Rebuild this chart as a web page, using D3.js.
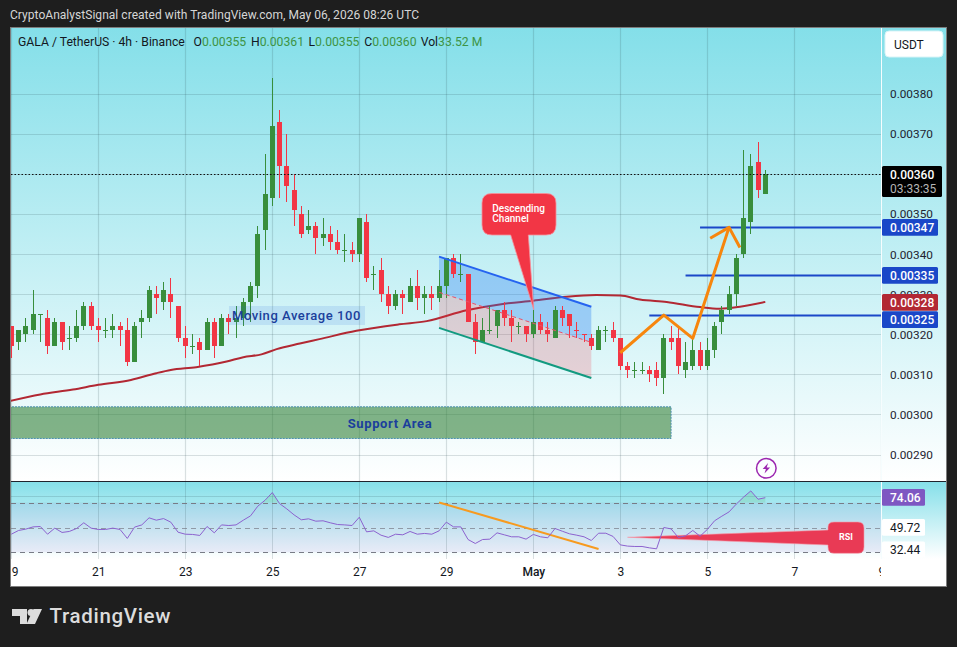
<!DOCTYPE html>
<html><head><meta charset="utf-8">
<script src="https://cdn.jsdelivr.net/npm/d3@7/dist/d3.min.js"></script>
<style>
html,body{margin:0;padding:0;background:#1e1e1e;overflow:hidden}
svg{display:block}
text{font-family:Roboto,"Liberation Sans",sans-serif}
</style></head><body>
<div id="chart"></div>
<script>
// prices are in units of 0.00001 USDT; x positions are 4h bar indexes (0 = Apr 19 00:00)
const opens =[322,318,320,321,325,324,317,323,319,319,322,327,322,321,321,322,321,313,323,324,330,328,330,327,319,317,318,316,323,317,324,323,324,328,332,346,354,373,362,356,350,346,347,344,345,343,341,341,340,348,335,336,330,327,330,328,332,329,330,329,332,339,335,335,323,318,321,322,326,324,322,322,320,323,321,319,326,325,321,320,319,316,321,321,319,312,311,311,311,311,309,319,319,311,312,316,312,316,323,326,330,340,348,363,355];
const closes=[317,321,322,325,325,317,323,318,319,322,327,322,321,321,322,321,313,322,324,331,329,331,328,319,317,317,316,323,317,324,323,324,328,332,345,355,372,362,357,351,345,347,344,345,343,341,341,340,349,334,335,330,327,330,329,332,329,330,329,332,339,335,335,323,318,321,321,326,324,322,322,320,323,321,320,326,324,322,321,320,317,321,321,319,312,311,311,311,310,309,319,318,312,313,316,312,316,322,326,330,339,349,362,356,360];
const highs =[322,321,324,331,325,326,324,323,322,326,328,328,324,324,325,323,324,323,326,332,332,333,334,327,322,320,319,324,324,325,325,327,329,333,347,365,384,376,370,360,352,351,348,349,347,346,345,343,349,350,337,339,332,331,331,334,336,332,332,336,339,340,340,335,325,324,327,326,328,326,323,322,326,325,323,327,327,325,323,320,320,322,322,323,319,313,313,313,312,313,320,322,322,318,319,318,319,323,327,332,340,366,365,368,361];
const lows  =[314,316,318,320,318,315,317,316,316,318,321,321,318,319,319,317,312,313,319,323,325,326,324,318,314,315,312,316,314,317,320,319,322,323,329,341,352,354,353,347,344,345,340,342,341,340,338,338,338,333,331,328,325,326,325,328,326,325,326,328,329,334,333,323,315,318,320,319,322,318,320,318,319,320,318,319,322,319,319,318,316,316,318,318,311,309,309,310,308,307,305,316,310,309,311,311,311,314,320,325,327,339,345,354,355];
const rsiValues=[44.6,47.6,48.7,50.5,50.8,44.6,49.5,46,46.8,49.2,53.8,49.5,48.4,48.4,49.5,48.4,41.2,50.3,52.1,57.8,55.9,57.2,54.3,46.2,44.6,44.4,43.6,50.8,45.7,52.1,51.6,52.1,55.9,59.4,67.2,72,78.2,69.3,65,60.2,56.2,57,55.1,55.4,53.8,52.4,52.1,51.6,58.3,46.5,47.3,43.8,42,44.6,44.1,46.8,44.6,45.2,44.6,47.3,54.3,50.5,50.5,40.3,37.1,40.3,40.6,45.7,44.1,42.5,42.5,40.6,44.4,42.5,41.7,49.2,47,44.9,43.8,42.5,39.5,45.4,45.4,42.8,36,35,34.7,34.7,33.6,32.8,50,48.9,42,43.3,47.6,43,48.4,55.4,59.1,62.6,68.9,74.5,79.5,72.8,74.06];
const maBars  =[-1,4,8.5,12,16.5,20,22,25.5,29.7,32,34.5,36.6,39.8,42.5,47.6,53.5,57.3,62.8,67.8,72,76.6,80.7,84,86.7,90.4,95,97.7,100.5,104];
const maValues=[303,305,306.2,307.4,308.6,310.3,311.1,311.8,313.2,314.3,315,316.3,317.7,318.8,320.9,322.5,323.3,326,327.6,328.4,329.4,329.8,329.7,328.7,328.1,326.8,326.4,326.9,328.1];
const priceTicks=[290,300,310,320,330,340,350,360,370,380];
const dateBars=[0,12,24,36,48,60,72,84,96,108,120];
const dateLabels=["19","21","23","25","27","29","May","3","5","7","9"];
const levelValues=[346.8,334.8,324.8];
const levelStartBars=[95,93,88];
const levelTagCenters=[227.3,275.3,319.7];
const channelBars=[59,80];
const channelTop=[339.4,326.9];
const channelMid=[330.5,318];
const channelBottom=[321.6,309.1];
const supportBand=[301.9,294];
const arrowBars=[84,90,94,99];
const arrowPrices=[315.4,324.8,319,346.7];
const arrowHeadBars=[96.4,99,100.5];
const arrowHeadPrices=[344,346.7,341.7];
const rsiTrendBars=[59,81];
const rsiTrendValues=[70.2,32.7];
const rsiBands=[70,50,30];

const W=957,H=647;
const svg=d3.select("#chart").append("svg").attr("width",W).attr("height",H).attr("viewBox",`0 0 ${W} ${H}`);
const defs=svg.append("defs");
function grad(id,y1,y2,stops){
  const g=defs.append("linearGradient").attr("id",id).attr("gradientUnits","userSpaceOnUse").attr("x1",0).attr("x2",0).attr("y1",y1).attr("y2",y2);
  stops.forEach(s=>g.append("stop").attr("offset",s[0]).attr("stop-color",s[1]));
}
const L=11,R=881,AR=946,T=28,MB=481,RB=559,FB=586;
grad("gMain",T,MB,[[0,"#84dfe9"],[1,"#ffffff"]]);
grad("gRsi",MB,RB,[[0,"#84dfe9"],[1,"#ffffff"]]);
defs.append("clipPath").attr("id","cMain").append("rect").attr("x",L).attr("y",T).attr("width",R-L).attr("height",MB-T);
defs.append("clipPath").attr("id","cRsi").append("rect").attr("x",L).attr("y",MB).attr("width",R-L).attr("height",RB-MB);
defs.append("clipPath").attr("id","cTime").append("rect").attr("x",L).attr("y",RB).attr("width",R-L).attr("height",FB-RB);

const x=d3.scaleLinear().domain([0,120]).range([11.3,881.3]);
const y=d3.scaleLinear().domain([290,380]).range([454.5,94]);
const yR=d3.scaleLinear().domain([30,70]).range([552.3,502.7]);
const fmt=v=>d3.format(".5f")(v*1e-5);
const snap=v=>Math.floor(v)+0.5;

// frame
svg.append("rect").attr("x",10.5).attr("y",27.5).attr("width",936).attr("height",559).attr("fill","#fff").attr("stroke","#7d7d7d");
svg.append("rect").attr("x",L).attr("y",T).attr("width",AR-L).attr("height",MB-T).attr("fill","url(#gMain)");
svg.append("rect").attr("x",L).attr("y",MB).attr("width",AR-L).attr("height",RB-MB).attr("fill","url(#gRsi)");

// title
svg.append("text").attr("x",10).attr("y",19).attr("fill","#d6d6d6").attr("font-size",12).attr("textLength",409).attr("lengthAdjust","spacing")
  .text("CryptoAnalystSignal created with TradingView.com, May 06, 2026 08:26 UTC");

// grid
const main=svg.append("g").attr("clip-path","url(#cMain)");
const grid="rgba(42,70,80,0.17)";
main.append("g").selectAll("line").data(priceTicks).join("line").attr("x1",L).attr("x2",R).attr("y1",d=>Math.round(y(d))+.5).attr("y2",d=>Math.round(y(d))+.5).attr("stroke",grid).attr("stroke-width",1.2);
main.append("g").selectAll("line").data(dateBars).join("line").attr("x1",d=>snap(x(d))).attr("x2",d=>snap(x(d))).attr("y1",T).attr("y2",MB).attr("stroke",grid).attr("stroke-width",1.2);

// support area
main.append("rect").attr("x",L-2).attr("y",y(supportBand[0])).attr("width",x(91)+0-(L-2)).attr("height",y(supportBand[1])-y(supportBand[0]))
  .attr("fill","rgba(46,125,50,0.58)").attr("stroke","#4a8fb0").attr("stroke-dasharray","2 1");
main.append("text").attr("x",390).attr("y",427.5).attr("text-anchor","middle").attr("font-size",13).attr("font-weight",700).attr("fill","#1b3f9c").attr("letter-spacing",.6).text("Support Area");

// MA 100
const maLine=d3.line().x((d,i)=>x(maBars[i])).y(d=>y(d)).curve(d3.curveMonotoneX);
main.append("path").attr("d",maLine(maValues)).attr("fill","none").attr("stroke","#b22833").attr("stroke-width",2);

// channel fill
const chTopArea=d3.area().x((d,i)=>x(channelBars[i])).y0((d,i)=>y(channelMid[i])).y1(d=>y(d));
const chBotArea=d3.area().x((d,i)=>x(channelBars[i])).y0((d,i)=>y(channelBottom[i])).y1(d=>y(d));
main.append("path").attr("d",chTopArea(channelTop)).attr("fill","rgba(33,120,243,0.32)");
main.append("path").attr("d",chBotArea(channelMid)).attr("fill","rgba(242,54,69,0.2)");
const chLine=d3.line().x((d,i)=>x(channelBars[i])).y(d=>y(d));

// horizontal levels
main.append("g").selectAll("line").data(levelValues).join("line")
  .attr("x1",(d,i)=>x(levelStartBars[i])).attr("x2",R).attr("y1",d=>Math.round(y(d))+.5).attr("y2",d=>Math.round(y(d))+.5)
  .attr("stroke","#1a47c8").attr("stroke-width",2);

// candles
const up="#388e3c",dn="#f23645";
const isUp=i=>closes[i]!==opens[i]?closes[i]>opens[i]:(i===0||closes[i]>=closes[i-1]);
const bars=main.append("g").attr("shape-rendering","crispEdges");
bars.selectAll("rect.w").data(opens).join("rect").attr("class","w")
  .attr("x",(d,i)=>snap(x(i))-.5).attr("width",1)
  .attr("y",(d,i)=>Math.round(y(highs[i]))).attr("height",(d,i)=>Math.round(y(lows[i]))-Math.round(y(highs[i])))
  .attr("fill",(d,i)=>isUp(i)?up:dn);
bars.selectAll("rect.b").data(opens).join("rect").attr("class","b")
  .attr("x",(d,i)=>snap(x(i))-2.5).attr("width",5)
  .attr("y",(d,i)=>Math.round(y(Math.max(d,closes[i]))))
  .attr("height",(d,i)=>Math.max(1,Math.round(y(Math.min(d,closes[i])))-Math.round(y(Math.max(d,closes[i])))))
  .attr("fill",(d,i)=>isUp(i)?up:dn);

// channel lines
main.append("path").attr("d",chLine(channelTop)).attr("stroke","#2563f0").attr("stroke-width",2).attr("fill","none");
main.append("path").attr("d",chLine(channelBottom)).attr("stroke","#129a80").attr("stroke-width",2).attr("fill","none");
main.append("path").attr("d",chLine(channelMid)).attr("stroke","#e8506a").attr("stroke-width",1).attr("stroke-dasharray","4 3").attr("fill","none");

// dotted last price
main.append("line").attr("x1",L).attr("x2",R).attr("y1",Math.round(y(closes[104]))+.5).attr("y2",Math.round(y(closes[104]))+.5).attr("stroke","#111").attr("stroke-dasharray","1.5 2").attr("stroke-width",1);

// orange arrow
const arr=d3.line().x((d,i)=>x(arrowBars[i])).y(d=>y(d));
main.append("path").attr("d",arr(arrowPrices)).attr("stroke","#f7860d").attr("stroke-width",3).attr("fill","none").attr("stroke-linejoin","round");
const arrH=d3.line().x((d,i)=>x(arrowHeadBars[i])).y(d=>y(d));
main.append("path").attr("d",arrH(arrowHeadPrices)).attr("stroke","#f7860d").attr("stroke-width",3).attr("fill","none").attr("stroke-linejoin","round");

// moving average label
main.append("rect").attr("x",229).attr("y",306).attr("width",136).attr("height",19).attr("fill","rgba(33,100,220,0.13)");
main.append("text").attr("x",232).attr("y",320).attr("font-size",13).attr("font-weight",500).attr("fill","#1b3f9c").attr("letter-spacing",.55).text("Moving Average 100");

// descending channel callout
const tipX=x(72)+.4,tipY=y(326.2);
main.append("path").attr("d",`M${tipX} ${tipY}L528.3 235H546Q556 235 556 225V203Q556 193.5 546 193.5H492Q482 193.5 482 203V225Q482 235 492 235H510.7Z`)
  .attr("fill","#f23645").attr("stroke","#f8909b").attr("stroke-width",.8);
const cal=main.append("text").attr("fill","#fff").attr("font-size",10).attr("font-weight",500);
cal.append("tspan").attr("x",492.3).attr("y",211.8).text("Descending");
cal.append("tspan").attr("x",492.3).attr("y",221.8).text("Channel");

// lightning marker
const bolt=main.append("g").attr("transform","translate(766.3,468.3)");
bolt.append("circle").attr("r",9.8).attr("fill","none").attr("stroke","#9c27b0").attr("stroke-width",1.5);
bolt.append("path").attr("d","M1.8-5.2L-3.6 .8H-.4L-1.8 5.2L3.8-.8H.4Z").attr("fill","#9c27b0");

// legend
const lg=svg.append("text").attr("y",46).attr("font-size",12.2).attr("fill","#131722");
lg.append("tspan").attr("x",18).text("GALA / TetherUS · 4h · Binance");
[["O","0.00355",193.5],["H","0.00361",251],["L","0.00355",308.5],["C","0.00360",364.3]].forEach(a=>{
  lg.append("tspan").attr("x",a[2]).attr("fill","#131722").text(a[0]);
  lg.append("tspan").attr("fill","#3d9445").text(a[1]);
});
lg.append("tspan").attr("x",420.7).attr("fill","#131722").text("Vol");
lg.append("tspan").attr("fill","#3d9445").text("33.52 M");

// price axis
const axR=d3.axisRight(y).tickValues(priceTicks).tickFormat(fmt).tickSize(0).tickPadding(9);
const gA=svg.append("g").attr("transform",`translate(${R},0)`).call(axR);
gA.select(".domain").attr("stroke","#f6fdfe").attr("d",`M0.5 ${T}V${MB}`);
gA.selectAll("text").attr("font-size",11.8).attr("fill","#1f2430").attr("font-family","Roboto,sans-serif");
svg.append("line").attr("x1",R+.5).attr("x2",R+.5).attr("y1",MB).attr("y2",RB).attr("stroke","#f6fdfe");

// USDT button
svg.append("rect").attr("x",885).attr("y",31).attr("width",58).attr("height",26).attr("rx",4).attr("fill","#fff").attr("stroke","#d8f4f7");
svg.append("text").attr("x",894).attr("y",48.5).attr("font-size",12).attr("fill","#131722").text("USDT");

// price tags
function tag(cy,txt,fill,wd){
  svg.append("rect").attr("x",882).attr("y",cy-8.4).attr("width",wd).attr("height",16.8).attr("rx",1.5).attr("fill",fill);
  svg.append("text").attr("x",890).attr("y",cy+4.3).attr("font-size",12).attr("font-weight",500).attr("fill","#fff").text(txt);
}
tag(302.3,fmt(maValues[28]-.1),"#b22833",56);
levelValues.forEach((d,i)=>tag(levelTagCenters[i],fmt(d),"#1a47c8",56));
svg.append("rect").attr("x",882).attr("y",166).attr("width",60).attr("height",31).attr("rx",1.5).attr("fill","#000");
svg.append("text").attr("x",890).attr("y",178.5).attr("font-size",12).attr("font-weight",500).attr("fill","#fff").text(fmt(closes[104]));
svg.append("text").attr("x",890).attr("y",192.5).attr("font-size",12).attr("fill","#b4b4b4").text("03:33:35");

// RSI pane
const rp=svg.append("g").attr("clip-path","url(#cRsi)");
rp.append("rect").attr("x",L).attr("y",yR(70)).attr("width",R-L).attr("height",yR(30)-yR(70)).attr("fill","rgba(126,87,194,0.1)");
rp.append("g").selectAll("line").data(dateBars).join("line").attr("x1",d=>snap(x(d))).attr("x2",d=>snap(x(d))).attr("y1",MB).attr("y2",RB).attr("stroke",grid);
rp.append("line").attr("x1",L).attr("x2",R).attr("y1",496.5).attr("y2",496.5).attr("stroke",grid);
rp.append("g").selectAll("line").data(rsiBands).join("line").attr("x1",L).attr("x2",R).attr("y1",d=>Math.round(yR(d))+.5).attr("y2",d=>Math.round(yR(d))+.5)
  .attr("stroke",(d,i)=>i===1?"rgba(120,123,134,.7)":"#787b86").attr("stroke-dasharray","5 4");
// overbought fill
defs.append("clipPath").attr("id","cOb").append("rect").attr("x",L).attr("y",MB).attr("width",R-L).attr("height",yR(70)-MB);
const obArea=d3.area().x((d,i)=>x(i)).y0(yR(70)).y1(d=>yR(d));
rp.append("g").attr("clip-path","url(#cOb)").append("path").attr("d",obArea(rsiValues)).attr("fill","rgba(76,175,80,0.16)");
// orange trend line
const rt=d3.line().x((d,i)=>x(rsiTrendBars[i])).y(d=>yR(d));
rp.append("path").attr("d",rt(rsiTrendValues)).attr("stroke","#f79a1f").attr("stroke-width",2).attr("fill","none");
// RSI callout
rp.append("path").attr("d",`M${x(85)} ${yR(42.1)}L828 530V527Q828 522 834 522H858Q864 522 864 528V547Q864 553.3 858 553.3H834Q828 553.3 828 547V545Z`)
  .attr("fill","#e93a55").attr("stroke","#f59aaa").attr("stroke-width",.6);
rp.append("text").attr("x",846).attr("y",540).attr("text-anchor","middle").attr("font-size",9).attr("font-weight",700).attr("fill","#fff").text("RSI");
// RSI line
const rl=d3.line().x((d,i)=>x(i)).y(d=>yR(d));
rp.append("path").attr("d",rl(rsiValues)).attr("fill","none").attr("stroke","#8c62cf").attr("stroke-width",1);
// RSI tags
function rtag(cy,h,txt,fill,col,w){
  svg.append("rect").attr("x",882).attr("y",cy-h/2).attr("width",43).attr("height",h).attr("rx",1.5).attr("fill",fill);
  svg.append("text").attr("x",890).attr("y",cy+4.3).attr("font-size",12).attr("font-weight",w).attr("fill",col).text(txt);
}
rtag(497.4,16.8,rsiValues[104].toFixed(2),"#7e57c2","#fff",500);
rtag(527.4,16.8,"49.72","#fff","#131722",400);
rtag(549.6,16,"32.44","#fff","#131722",400);

// separators
svg.append("line").attr("x1",L).attr("x2",AR).attr("y1",481.5).attr("y2",481.5).attr("stroke","#20242e").attr("stroke-width",1.2);

// time axis
const axB=d3.axisBottom(x).tickValues(dateBars).tickFormat((d,i)=>dateLabels[i]).tickSize(0).tickPadding(8);
const gB=svg.append("g").attr("clip-path","url(#cTime)").append("g").attr("transform",`translate(0,${RB})`).call(axB);
gB.select(".domain").remove();
gB.selectAll("text").attr("font-size",12).attr("fill","#131722").attr("font-family","Roboto,sans-serif").attr("font-weight",d=>d===72?500:400);

// logo
svg.append("path").attr("d","M12 609H27V624H20V616H12Z").attr("fill","#dcdcdc");
svg.append("circle").attr("cx",31).attr("cy",612.6).attr("r",3.5).attr("fill","#dcdcdc");
svg.append("path").attr("d","M33.5 609H42L35 624H26.5Z").attr("fill","#dcdcdc");
svg.append("text").attr("x",49.5).attr("y",623).attr("font-size",20.5).attr("font-weight",500).attr("fill","#dcdcdc").attr("textLength",121).attr("lengthAdjust","spacing").text("TradingView");
</script>
</body></html>
